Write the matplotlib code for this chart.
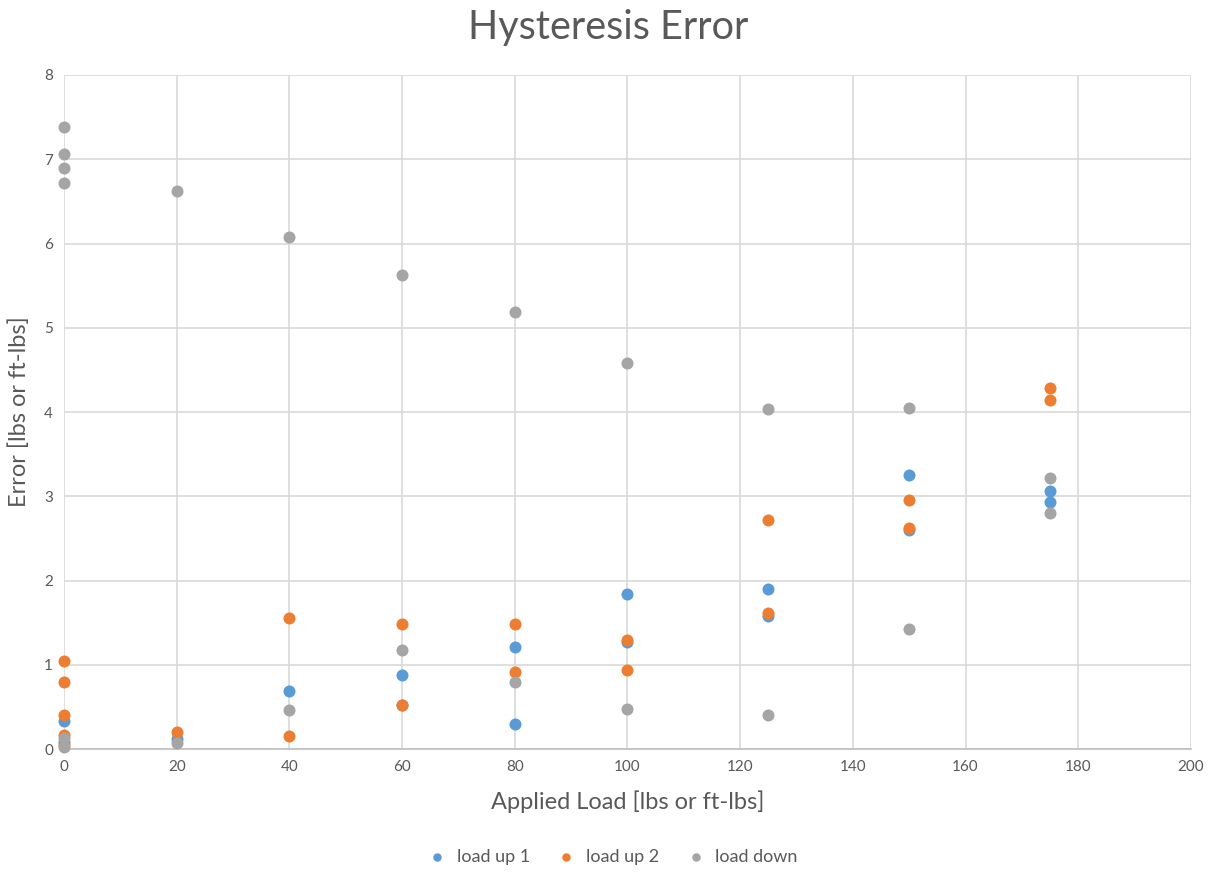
import matplotlib
matplotlib.use("Agg")
import matplotlib.pyplot as plt

# Hysteresis test results: applied load vs. measured error
up1_load = [0, 0, 20, 40, 60, 60, 80, 80, 100, 100, 125, 125, 150, 150, 175, 175]
up1_err = [0.33, 0.08, 0.12, 0.69, 0.88, 0.52, 1.21, 0.30, 1.84, 1.27, 1.90, 1.58, 3.25, 2.60, 3.06, 2.93]

up2_load = [0, 0, 0, 0, 0, 20, 40, 40, 60, 60, 80, 80, 100, 100, 125, 125, 150, 150, 175, 175]
up2_err = [1.04, 0.80, 0.40, 0.17, 0.05, 0.20, 1.56, 0.15, 1.49, 0.52, 1.48, 0.91, 1.30, 0.94, 2.72, 1.61, 2.96, 2.62, 4.28, 4.14]

down_load = [0, 0, 0, 0, 0, 0, 20, 20, 40, 40, 60, 60, 80, 80, 100, 100, 125, 125, 150, 150, 175, 175]
down_err = [7.38, 7.06, 6.90, 6.72, 0.13, 0.02, 6.62, 0.07, 6.08, 0.46, 5.63, 1.18, 5.19, 0.80, 4.58, 0.47, 4.03, 0.40, 4.05, 1.42, 3.22, 2.80]

x_ticks = list(range(0, 201, 20))
y_ticks = list(range(0, 9))

plt.rcParams['font.family'] = ['Lato', 'DejaVu Sans']

fig = plt.figure(figsize=(12.17, 8.72), dpi=100)
ax = fig.add_axes([0.0526, 0.141, 0.926, 0.773])

grid_c = '#d9d9d9'
text_c = '#595959'

ax.scatter(up1_load, up1_err, s=75, color='#5B9BD5', label='load up 1', zorder=3, clip_on=False, linewidths=0)
ax.scatter(up2_load, up2_err, s=75, color='#ED7D31', label='load up 2', zorder=4, clip_on=False, linewidths=0)
ax.scatter(down_load, down_err, s=75, color='#A5A5A5', label='load down', zorder=5, clip_on=False, linewidths=0)

ax.set_xlim(0, 200)
ax.set_ylim(0, 8)
ax.set_xticks(x_ticks)
ax.set_yticks(y_ticks)
ax.grid(True, color=grid_c, linewidth=1.2, zorder=0)
ax.set_axisbelow(True)
for side in ['top', 'right', 'left']:
    ax.spines[side].set_visible(False)
ax.spines['bottom'].set_color('#bfbfbf')
ax.spines['bottom'].set_linewidth(1.2)
ax.tick_params(axis='both', length=0, labelsize=11, colors=text_c, pad=8)

ax.set_xlabel('Applied Load [lbs or ft-lbs]', fontsize=17, color=text_c, labelpad=12)
ax.set_ylabel('Error [lbs or ft-lbs]', fontsize=17, color=text_c, labelpad=10)
fig.suptitle('Hysteresis Error', fontsize=28.5, color=text_c, y=0.99)

fig.legend(loc='center', bbox_to_anchor=(0.5, 0.017), ncol=3, frameon=False,
           fontsize=13, labelcolor=text_c, markerscale=0.7, handletextpad=0.1,
           columnspacing=1.0, borderaxespad=0)

fig.savefig('out.png', dpi=100, facecolor='white')
